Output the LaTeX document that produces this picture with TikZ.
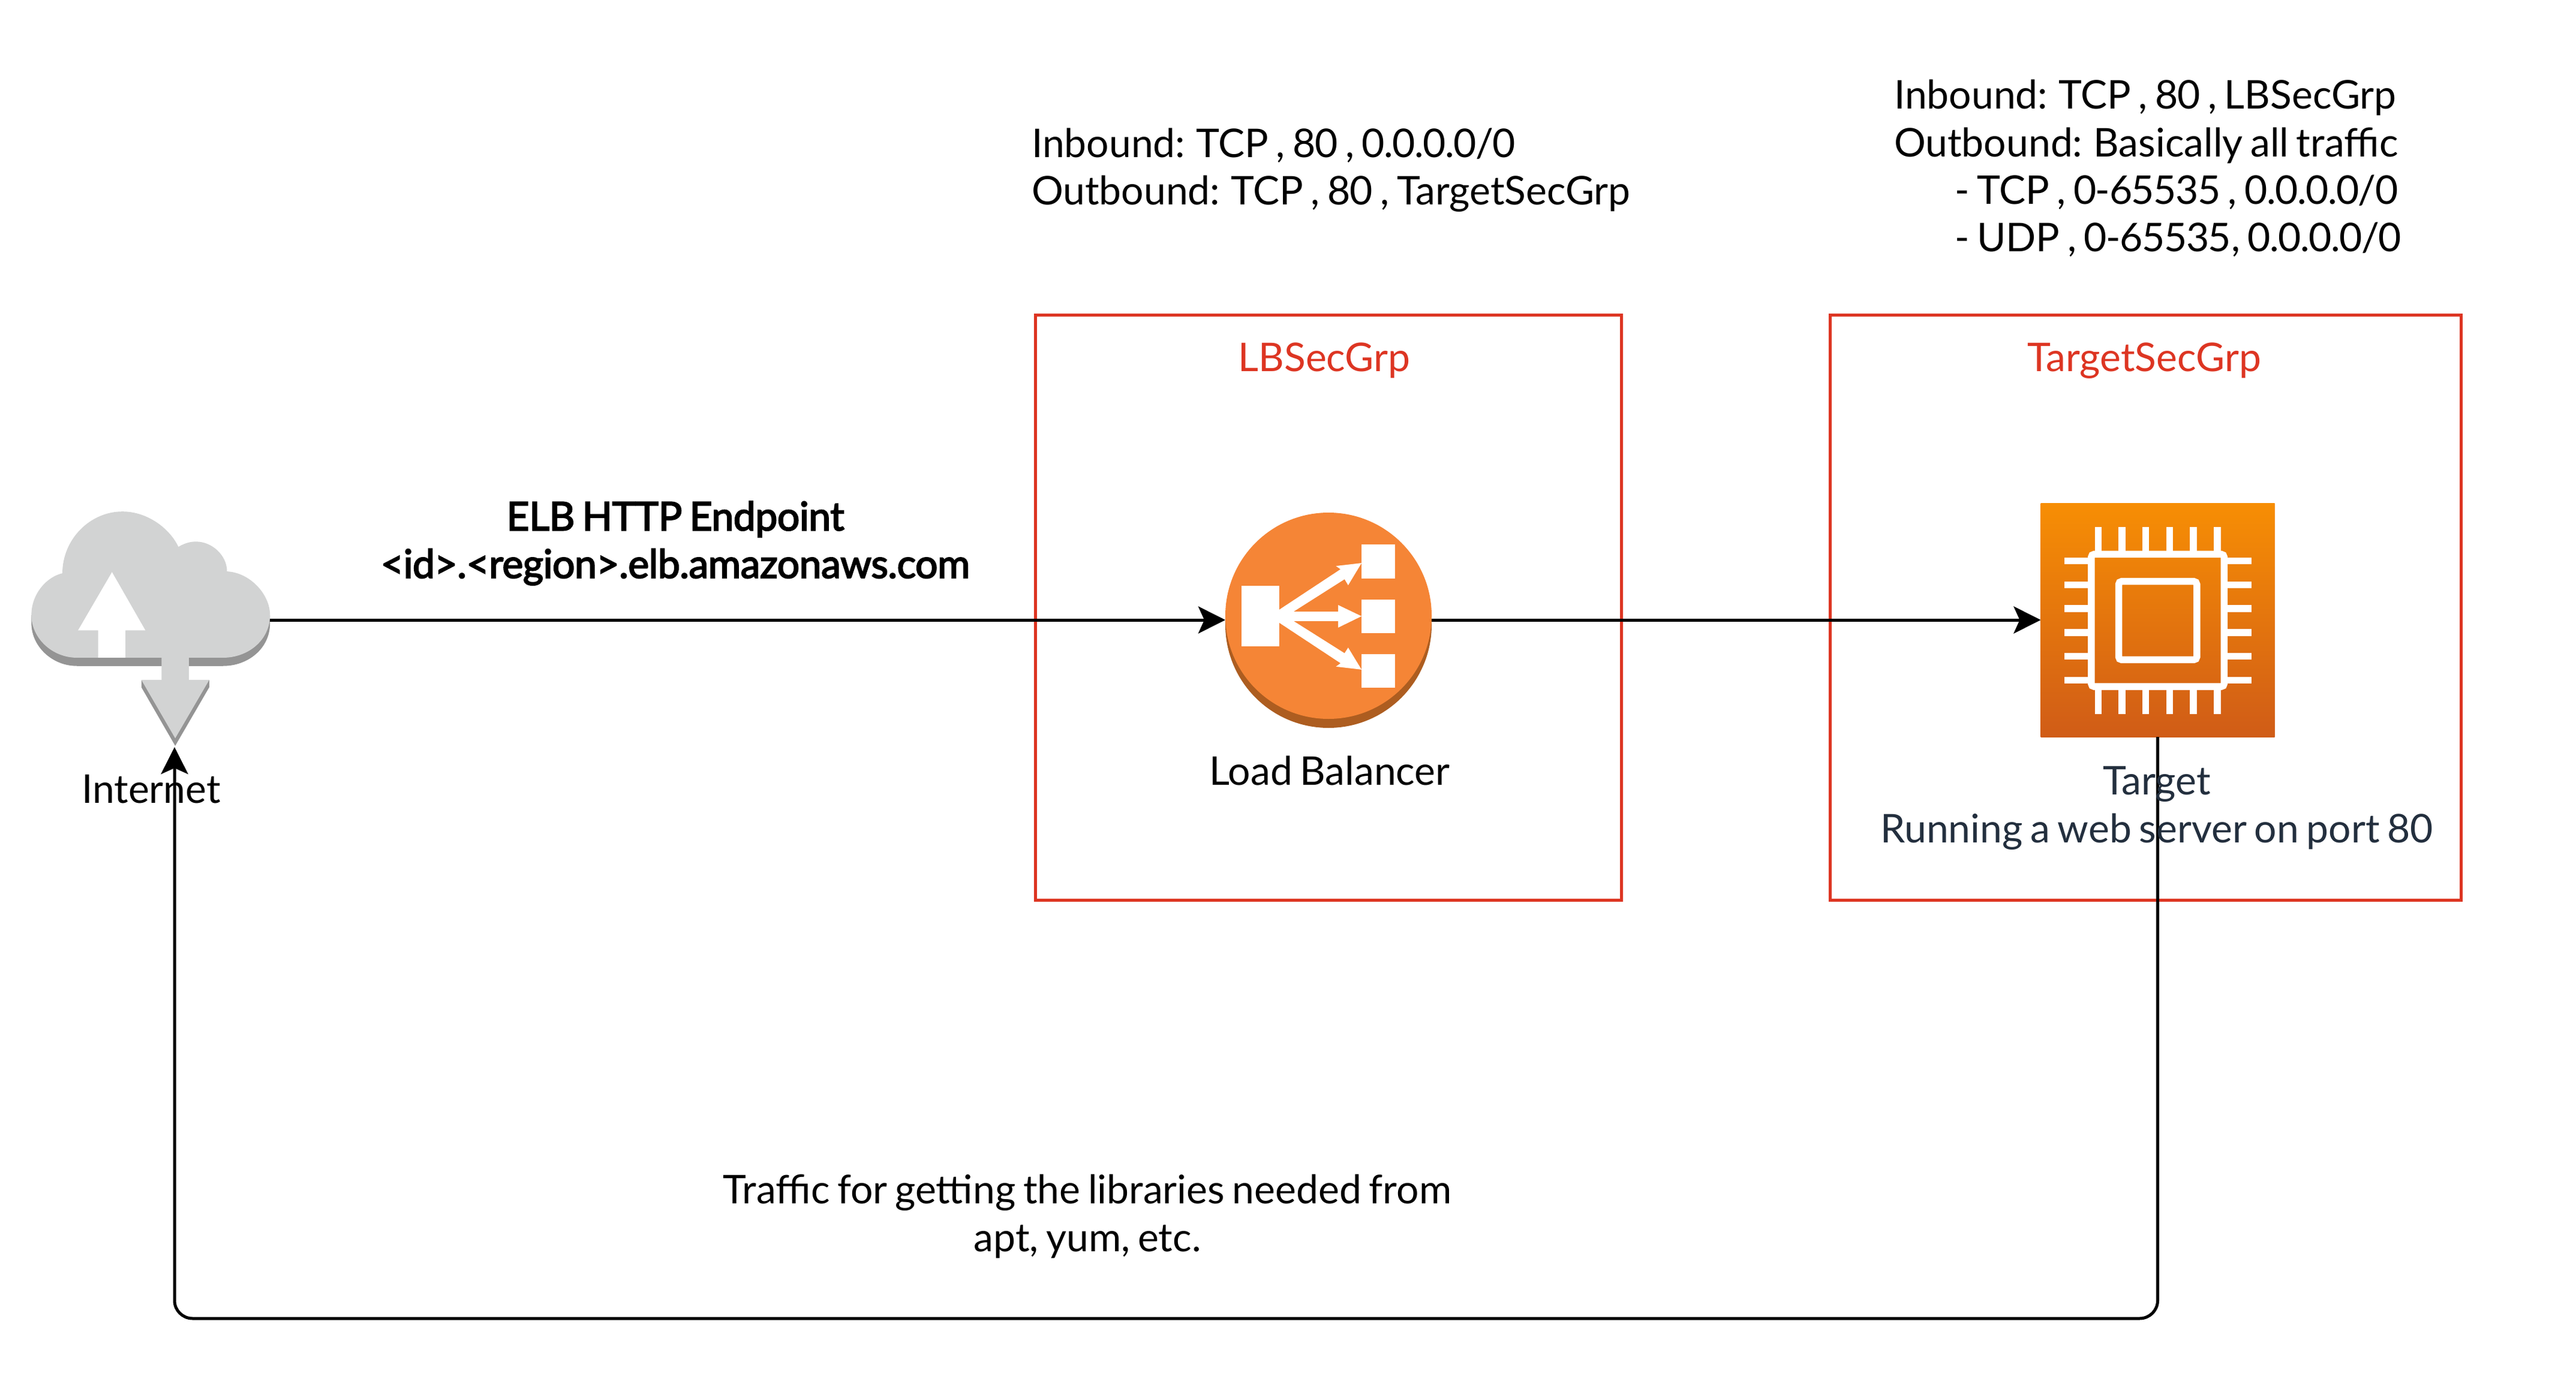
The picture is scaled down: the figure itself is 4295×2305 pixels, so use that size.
\documentclass[tikz,border=0pt]{standalone}
\usepackage{fontspec}
\setmainfont[WordSpace=0.75]{Lato}
\newfontfamily\lblbold[FakeBold=3,WordSpace=0.75,LetterSpace=-0.7]{Lato}
\newcommand{\nm}[1]{{\addfontfeature{LetterSpace=-2.3}#1}}
\usetikzlibrary{arrows.meta}
\definecolor{cloudface}{HTML}{D2D3D3}
\definecolor{cloudside}{HTML}{949494}
\definecolor{lbface}{HTML}{F58536}
\definecolor{lbside}{HTML}{AD5D20}
\definecolor{chiptop}{HTML}{F78E04}
\definecolor{chipbot}{HTML}{D05C17}
\definecolor{redline}{HTML}{DD3522}
\definecolor{awsdark}{HTML}{232F3E}
\tikzset{
  conn/.style={line width=1pt,draw=black,-{Stealth[length=9pt,width=9pt,inset=2pt]}},
  lbl/.style={inner sep=0pt,outer sep=0pt,anchor=base,align=center,font=\fontsize{13.2}{15.88}\selectfont},
  lbll/.style={lbl,anchor=base west,align=left},
  anchorbox/.style={inner sep=0pt,outer sep=0pt,draw=none,fill=none},
  secbox/.style={anchorbox,draw=redline,line width=1pt},
  pin/.style={line width=2.3pt,white,line cap=butt},
}
\newcommand{\cloudshape}{(385,776) .. controls (260,776) and (157,690) .. (157,590)
  .. controls (157,500) and (230,425) .. (312,408)
  .. controls (312,260) and (450,139) .. (612,139)
  .. controls (740,139) and (850,215) .. (892,293)
  .. controls (920,278) and (950,270) .. (980,270)
  .. controls (1060,270) and (1135,330) .. (1135,400)
  .. controls (1250,405) and (1350,500) .. (1350,590)
  .. controls (1350,700) and (1240,776) .. (1115,776) -- cycle}
\begin{document}
\begin{tikzpicture}[x=0.2pt,y=-0.2pt]
\useasboundingbox (0,0) rectangle (4295,2305);
\fill[white] (0,0) rectangle (4295,2305);

% security groups
\node[secbox,minimum width=195.4pt,minimum height=195pt] (lbgrp) at (2214.5,1013.5) {};
\node[secbox,minimum width=210.4pt,minimum height=195pt] (tggrp) at (3577,1013.5) {};

% internet cloud
\begin{scope}[shift={(0,800)},x=0.0667pt,y=-0.07654pt]
  \fill[cloudside] (385,812) .. controls (260,812) and (157,726) .. (157,626)
    -- (157,590) -- (1350,590) -- (1350,626) .. controls (1350,736) and (1240,812) .. (1115,812) -- cycle;
  \fill[cloudface] \cloudshape;
  \fill[white] (560,403) -- (727,657) -- (627,657) -- (627,776) -- (491,776) -- (491,657) -- (390,657) -- cycle;
  \fill[white] (808,812) rectangle (944,873);
  \fill[cloudside] (707,873) -- (707,905) -- (876,1160) -- (1046,905) -- (1046,873) -- cycle;
  \fill[cloudface] (808,700) -- (944,700) -- (944,873) -- (1046,873) -- (876,1127) -- (707,873) -- (808,873) -- cycle;
\end{scope}
\node[anchorbox,minimum width=79.6pt,minimum height=10pt] (inet) at (251,1034) {};
\coordinate (inettip) at (291,1246);

% load balancer icon
\fill[lbside] (2215,1042) circle [radius=172];
\fill[lbface] (2215,1027) circle [radius=172];
\node[anchorbox,minimum width=68.8pt,minimum height=10pt] (lb) at (2215,1034) {};
\begin{scope}[shift={(1980,800)},x=0.0667pt,y=-0.0667pt]
  \fill[white] (270,532) rectangle (459,835);
  \fill[white] (871,325) rectangle (1038,494);
  \fill[white] (871,600) rectangle (1038,768);
  \fill[white] (871,873) rectangle (1038,1041);
  \fill[white] (459,650) -- (765,448) -- (742,432) -- (870,417) -- (803,528) -- (785,498) -- (530,660)
     -- (753,660) -- (753,627) -- (870,683) -- (753,740) -- (753,707) -- (530,707)
     -- (785,868) -- (803,840) -- (870,950) -- (742,935) -- (765,918) -- (459,716) -- cycle;
\end{scope}

% target chip
\node[anchorbox,minimum width=78pt,minimum height=78pt,top color=chiptop,bottom color=chipbot] (chip) at (3597.5,1034) {};
\begin{scope}[shift={(3300,800)},x=0.07654pt,y=-0.07654pt]
  \foreach \p in {518,622,725,829,933,1037} {
    \draw[pin] (\p,206) -- (\p,325);
    \draw[pin] (\p,902) -- (\p,1021);
  }
  \foreach \p in {354,458,562,666,770,874} {
    \draw[pin] (371,\p) -- (488,\p);
    \draw[pin] (1067,\p) -- (1186,\p);
  }
  \draw[line width=2.3pt,white,rounded corners=1pt] (488,325) rectangle (1067,902);
  \draw[line width=2.3pt,white,rounded corners=1pt] (607.5,443.5) rectangle (948,785);
\end{scope}

% connectors
\coordinate (bus) at (1800,2199);
\draw[conn] (inet.east) -- (lb.west);
\draw[conn] (lb.east) -- (chip.west);
\draw[conn,rounded corners=6pt] (chip.south) -- (chip.south |- bus) -- (inettip |- bus) -- (inettip);

% labels
\node[lbl,redline] (lblb) at (2208,619) {LBSecGrp};
\node[lbl,redline] (lbtg) at (3575,619) {TargetSecGrp};
\node[lbl] (lbllb) at (2217,1309) {Load Balancer};
\node[lbl,awsdark] (lbltg) at (3596,1405) {Target\\Running a web server on port 80};
\node[lbl] (lblin) at (252,1339) {Internet};
\node[lbl,font=\fontsize{13.2}{15.88}\selectfont\lblbold] (lblelb) at (1126,964) {ELB HTTP Endpoint\\<id>.<region>.elb.amazonaws.com};
\node[lbl] (lbltr) at (1813,2087) {Traffic for getting the libraries needed from\\apt, yum, etc.};
\node[lbll] (lblrl) at (1720,342) {Inbound: TCP , \nm{80} , \nm{0.0.0.0/0}\\Outbound: TCP , \nm{80} , TargetSecGrp};
\node[lbll] (lblrt) at (3158,420) {Inbound: TCP , \nm{80} , LBSecGrp\\Outbound: Basically all traffic\\\hspace*{20.2pt}- TCP , \nm{0-65535} , \nm{0.0.0.0/0}\\\hspace*{20.2pt}- UDP , \nm{0-65535}, \nm{0.0.0.0/0}};
\end{tikzpicture}
\end{document}
